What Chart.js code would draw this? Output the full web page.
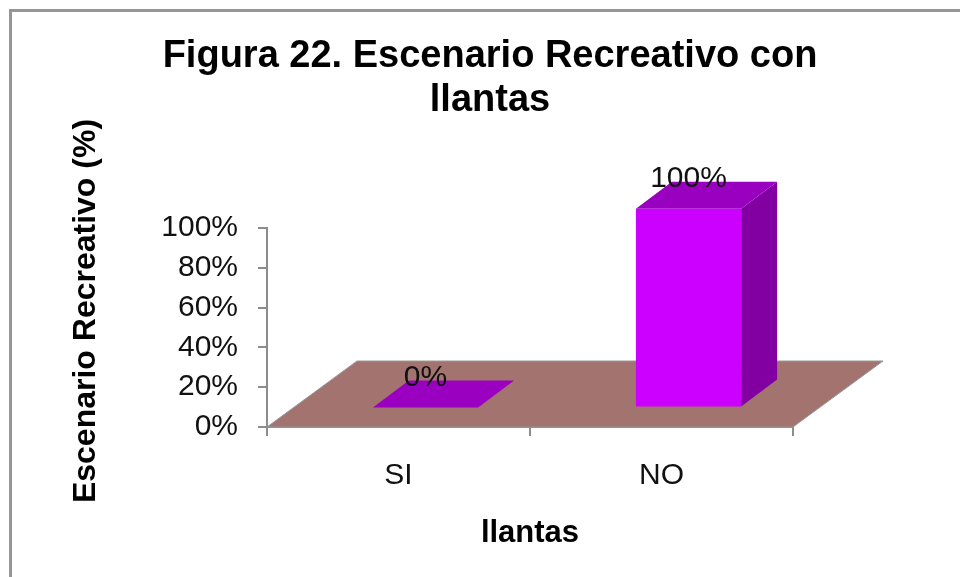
<!DOCTYPE html>
<html>
<head>
<meta charset="utf-8">
<script src="https://cdn.jsdelivr.net/npm/chart.js@4/dist/chart.umd.min.js"></script>
<style>
  html, body { margin: 0; background: #fff; overflow: hidden; }
  #wrap { position: relative; width: 960px; height: 577px; overflow: hidden; }
  #frame { position: absolute; left: 9px; top: 9px; width: 960px; height: 600px; border: 3px solid #969696; }
  canvas { position: absolute; left: 0; top: 0; }
</style>
</head>
<body>
<div id="wrap">
  <div id="frame"></div>
  <canvas id="chart" width="960" height="577"></canvas>
</div>
<script>
const categories = ["SI", "NO"];
const values = [0, 100];
const tickValues = [0, 20, 40, 60, 80, 100];
const titleLines = ["Figura 22. Escenario Recreativo con", "llantas"];
const yTitle = "Escenario Recreativo (%)";
const xTitle = "llantas";

const FONT = "'Liberation Sans', Arial, sans-serif";
const GREY = "#8c8c8c";
// 3d depth of the floor and of the bars
const floorDepth = { x: 90, y: -66 };
const barDepth = { x: 36, y: -27 };
const barShift = { x: (floorDepth.x - barDepth.x) / 2, y: (floorDepth.y - barDepth.y) / 2 };

function fillPoly(ctx, pts, color) {
  ctx.beginPath();
  pts.forEach((p, i) => (i ? ctx.lineTo(p[0], p[1]) : ctx.moveTo(p[0], p[1])));
  ctx.closePath();
  ctx.fillStyle = color;
  ctx.fill();
}

const fake3d = {
  id: "fake3d",
  beforeDatasetsDraw(chart) {
    const ctx = chart.ctx;
    const { left, right, bottom } = chart.chartArea;
    // floor
    ctx.save();
    fillPoly(ctx, [
      [left, bottom],
      [right, bottom],
      [right + floorDepth.x, bottom + floorDepth.y],
      [left + floorDepth.x, bottom + floorDepth.y]
    ], "#a3736f");
    ctx.strokeStyle = "#999999";
    ctx.lineWidth = 1;
    ctx.stroke();
    ctx.restore();

    // sides and tops of the bars
    ctx.save();
    ctx.translate(barShift.x, barShift.y);
    chart.getDatasetMeta(0).data.forEach((bar) => {
      const x0 = bar.x - bar.width / 2;
      const x1 = bar.x + bar.width / 2;
      fillPoly(ctx, [
        [x1, bar.y],
        [x1, bar.base],
        [x1 + barDepth.x, bar.base + barDepth.y],
        [x1 + barDepth.x, bar.y + barDepth.y]
      ], "#8200a2");
      fillPoly(ctx, [
        [x0, bar.y],
        [x1, bar.y],
        [x1 + barDepth.x, bar.y + barDepth.y],
        [x0 + barDepth.x, bar.y + barDepth.y]
      ], "#9a00c0");
    });
    ctx.restore();

    // front faces are drawn by the library, just moved into the box
    ctx.save();
    ctx.translate(barShift.x, barShift.y);
  },
  afterDatasetsDraw(chart) {
    const ctx = chart.ctx;
    ctx.restore();

    // value labels
    ctx.save();
    ctx.font = "30px " + FONT;
    ctx.fillStyle = "#111111";
    ctx.textAlign = "center";
    ctx.textBaseline = "middle";
    chart.getDatasetMeta(0).data.forEach((bar, i) => {
      ctx.fillText(values[i] + "%", bar.x + barShift.x, bar.y + barShift.y - 30);
    });
    ctx.restore();

    // y title sits above the axis centre, so the scale title can't place it
    ctx.save();
    ctx.font = "bold 32px " + FONT;
    ctx.fillStyle = "#000000";
    ctx.textAlign = "center";
    ctx.textBaseline = "middle";
    ctx.translate(86, 311);
    ctx.rotate(-Math.PI / 2);
    ctx.fillText(yTitle, 0, 0);
    ctx.restore();
  }
};

new Chart(document.getElementById("chart"), {
  type: "bar",
  data: {
    labels: categories,
    datasets: [{
      data: values,
      backgroundColor: "#cc00ff",
      barPercentage: 0.4,
      categoryPercentage: 1,
      clip: false
    }]
  },
  plugins: [fake3d],
  options: {
    responsive: false,
    animation: false,
    layout: { autoPadding: false, padding: { left: 20, right: 0, top: 0, bottom: 0 } },
    plugins: {
      legend: { display: false },
      tooltip: { enabled: false },
      title: {
        display: true,
        text: titleLines,
        color: "#000000",
        font: { family: FONT, size: 38, weight: "bold", lineHeight: 1.16 },
        padding: { top: 34, bottom: 106 }
      }
    },
    scales: {
      x: {
        grid: { drawOnChartArea: false, color: GREY, tickLength: 9, lineWidth: 2 },
        border: { color: GREY, width: 2 },
        ticks: { color: "#111111", font: { family: FONT, size: 30 }, padding: 22, maxRotation: 0 },
        title: {
          display: true,
          text: xTitle,
          color: "#000000",
          font: { family: FONT, size: 31, weight: "bold" },
          padding: { top: 12, bottom: 25 }
        },
        afterFit(scale) { scale.height = 150; }
      },
      y: {
        min: 0,
        max: 100,
        afterBuildTicks(scale) { scale.ticks = tickValues.map((value) => ({ value })); },
        grid: { drawOnChartArea: false, color: GREY, tickLength: 9, lineWidth: 2 },
        border: { color: GREY, width: 2 },
        ticks: {
          color: "#111111",
          font: { family: FONT, size: 30 },
          padding: 20,
          callback: (v) => v + "%"
        },
        afterFit(scale) { scale.width = 247; }
      },
      // empty axis, only keeps the plot off the right side so the title stays centred on the whole frame
      spacer: {
        position: "right",
        grid: { display: false },
        border: { display: false },
        ticks: { display: false },
        afterFit(scale) { scale.width = 167; }
      }
    }
  }
});
</script>
</body>
</html>
